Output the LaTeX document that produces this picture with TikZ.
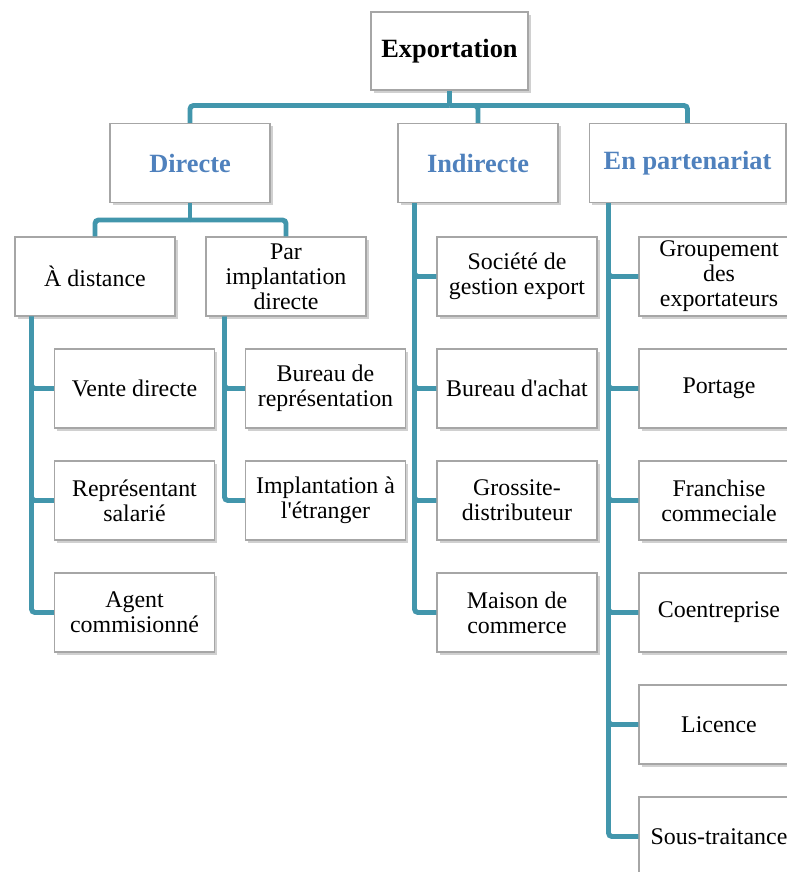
\documentclass[tikz,border=0pt]{standalone}
\usepackage{fontspec}
\setmainfont{Liberation Serif}
\usetikzlibrary{shadows}

\definecolor{linkteal}{RGB}{66,150,172}
\definecolor{headblue}{RGB}{79,129,189}

\begin{document}
\begin{tikzpicture}[%
        x = 0.02cm,
        y = -0.02cm,
        box/.style = {
            draw = black!35,
            line width = 0.6pt,
            fill = white,
            drop shadow = {shadow xshift = 1.6pt, shadow yshift = -1.6pt,
                           opacity = 0.3, fill = black!60},
            minimum width = 3.2cm,
            minimum height = 1.58cm,
            align = center,
            inner sep = 1pt,
            font = \fontsize{13.6}{14.2}\selectfont
        },
        head/.style = {
            box,
            text = headblue,
            font = \fontsize{15}{17}\selectfont\bfseries
        },
        link/.style = {
            draw = linkteal,
            line width = 2.8pt,
            rounded corners = 2pt
        }
    ]

        % Page size of the reference.
        \clip (0, 0) rectangle (787, 872);
        \fill[white] (0, 0) rectangle (787, 872);

        % Top box.
        \node[box, minimum width = 3.14cm, minimum height = 1.56cm,
              font = \fontsize{15}{17}\selectfont\bfseries] (exp) at (449.5, 51) {Exportation};

        % The three kinds of export.
        \node[head] (dir) at (190, 163) {Directe};
        \node[head] (ind) at (478, 163) {Indirecte};
        \node[head, minimum width = 3.94cm] (par) at (687.5, 163) {En partenariat};

        % Under Directe.
        \node[box] (dist) at (95, 276.5) {À distance};
        \node[box] (impl) at (286, 276.5) {Par\\implantation\\directe};

        \node[box] (vente) at (134.5, 388.5) {Vente directe};
        \node[box] (repr) at (134.5, 500.5) {Représentant\\salarié};
        \node[box] (agent) at (134.5, 612.5) {Agent\\commisionné};

        \node[box] (bureau) at (325.5, 388.5) {Bureau de\\représentation};
        \node[box] (etr) at (325.5, 500.5) {Implantation à\\l\textquotesingle étranger};

        % Under Indirecte.
        \node[box] (soc) at (517, 276.5) {Société de\\gestion export};
        \node[box] (achat) at (517, 388.5) {Bureau d\textquotesingle achat};
        \node[box] (gros) at (517, 500.5) {Grossite-\\distributeur};
        \node[box] (maison) at (517, 612.5) {Maison de\\commerce};

        % Under En partenariat.
        \node[box] (grp) at (719, 276.5) {Groupement\\des\\exportateurs};
        \node[box] (port) at (719, 388.5) {Portage};
        \node[box] (fran) at (719, 500.5) {Franchise\\commeciale};
        \node[box] (coent) at (719, 612.5) {Coentreprise};
        \node[box] (lic) at (719, 724.5) {Licence};
        \node[box] (sous) at (719, 836.5) {Sous-traitance};

        % Connectors from the top box.
        \draw[link] (exp.south) -- ++(0, 15) coordinate (hub);
        \draw[link] (hub) -| (dir.north);
        \draw[link] (hub) -| (ind.north);
        \draw[link] (hub) -| (par.north);

        % Connectors below Directe.
        \draw[link] (dir.south) -- ++(0, 17) coordinate (dirhub);
        \draw[link] (dirhub) -| (dist.north);
        \draw[link] (dirhub) -| (impl.north);

        % Side rails to the leaves.
        \draw[link] (dist.south west) ++(17, 0) |- (vente.west);
        \draw[link] (dist.south west) ++(17, 0) |- (repr.west);
        \draw[link] (dist.south west) ++(17, 0) |- (agent.west);

        \draw[link] (impl.south west) ++(19, 0) |- (bureau.west);
        \draw[link] (impl.south west) ++(19, 0) |- (etr.west);

        \draw[link] (ind.south west) ++(17, 0) |- (soc.west);
        \draw[link] (ind.south west) ++(17, 0) |- (achat.west);
        \draw[link] (ind.south west) ++(17, 0) |- (gros.west);
        \draw[link] (ind.south west) ++(17, 0) |- (maison.west);

        \draw[link] (par.south west) ++(20, 0) |- (grp.west);
        \draw[link] (par.south west) ++(20, 0) |- (port.west);
        \draw[link] (par.south west) ++(20, 0) |- (fran.west);
        \draw[link] (par.south west) ++(20, 0) |- (coent.west);
        \draw[link] (par.south west) ++(20, 0) |- (lic.west);
        \draw[link] (par.south west) ++(20, 0) |- (sous.west);
    \end{tikzpicture}
\end{document}
